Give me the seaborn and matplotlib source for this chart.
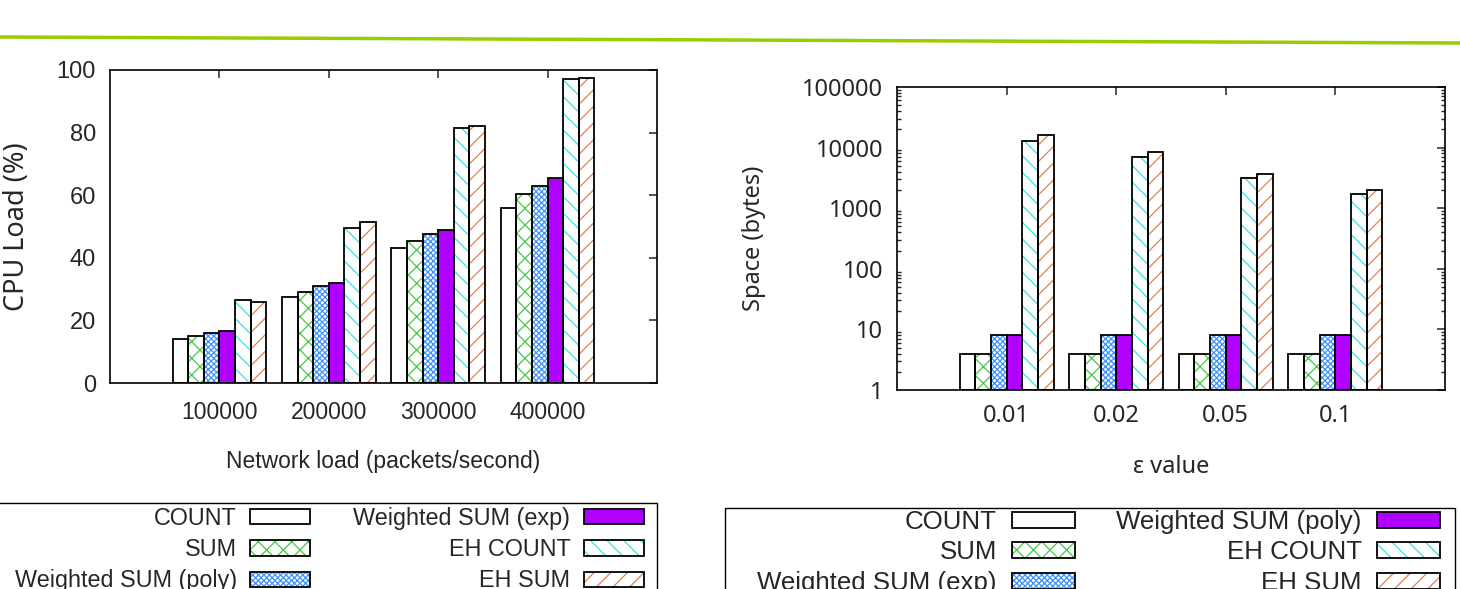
import matplotlib
matplotlib.use('Agg')
import matplotlib.pyplot as plt
import pandas as pd
import seaborn as sns
from matplotlib.patches import Patch, Rectangle
from matplotlib.lines import Line2D

# CPU load chart (left)
loads = ['100000', '200000', '300000', '400000']
cpu_methods = ['COUNT', 'SUM', 'Weighted SUM (poly)', 'Weighted SUM (exp)', 'EH COUNT', 'EH SUM']
cpu_count = [14, 27.5, 43, 56]
cpu_sum = [15, 29, 45.5, 60.5]
cpu_wpoly = [16, 31, 47.5, 63]
cpu_wexp = [16.5, 32, 49, 65.5]
cpu_ehcount = [26.5, 49.5, 81.5, 97]
cpu_ehsum = [26, 51.5, 82, 97.5]

# Space chart (right)
eps = ['0.01', '0.02', '0.05', '0.1']
space_methods = ['COUNT', 'SUM', 'Weighted SUM (exp)', 'Weighted SUM (poly)', 'EH COUNT', 'EH SUM']
sp_count = [4, 4, 4, 4]
sp_sum = [4, 4, 4, 4]
sp_wexp = [8, 8, 8, 8]
sp_wpoly = [8, 8, 8, 8]
sp_ehcount = [13000, 7000, 3100, 1700]
sp_ehsum = [16000, 8500, 3650, 2000]

# bar styles in drawing order: (face, hatch colour, hatch)
styles = [
    ('white', 'black', ''),
    ('white', '#45c845', 'xx'),
    ('white', '#3c92ff', 'xxxxxx'),
    ('#b000ff', 'black', ''),
    ('white', '#38e2e2', '\\\\'),
    ('white', '#e0804c', '//'),
]

plt.rcParams['hatch.linewidth'] = 0.9
sns.set_style('white')

arial = ['Liberation Sans', 'DejaVu Sans']
noto = ['Noto Sans', 'DejaVu Sans']


def long_df(cats, methods, series, xname, yname):
    rows = []
    for m, vals in zip(methods, series):
        for c, v in zip(cats, vals):
            rows.append({xname: c, 'method': m, yname: v})
    return pd.DataFrame(rows)


def style_bars(ax, base=0):
    for cont, (face, hcol, hatch) in zip(ax.containers, styles):
        for p in cont.patches:
            if base:
                top = p.get_y() + p.get_height()
                p.set_y(base)
                p.set_height(top - base)
            p.set_facecolor(face)
            p.set_hatch(hatch)
            p.set_edgecolor(hcol)
            p.set_linewidth(0)
            ax.add_patch(Rectangle(p.get_xy(), p.get_width(), p.get_height(),
                                   fill=False, edgecolor='black', linewidth=1.3, zorder=3))


def legend_handles():
    hs = []
    for face, hcol, hatch in styles:
        hs.append((Patch(facecolor=face, edgecolor=hcol, hatch=hatch, linewidth=0),
                   Patch(fill=False, edgecolor='black', linewidth=1.3)))
    return hs


def frame(ax):
    for s in ax.spines.values():
        s.set_visible(True)
        s.set_color('black')
        s.set_linewidth(1.2)
    ax.tick_params(direction='in', top=True, right=True, length=6, width=1.1)


W, H = 1460, 589
fig = plt.figure(figsize=(W / 100, H / 100), dpi=100)
fig.add_artist(Line2D([0, 1], [1 - 37 / H, 1 - 43 / H], color='#9acc00', linewidth=2.5))

# left chart
ax1 = fig.add_axes([110 / W, 1 - 383 / H, 547 / W, 313 / H])
df1 = long_df(loads, cpu_methods, [cpu_count, cpu_sum, cpu_wpoly, cpu_wexp, cpu_ehcount, cpu_ehsum],
              'load', 'cpu')
sns.barplot(data=df1, x='load', y='cpu', hue='method', ax=ax1, width=6 / 7, gap=0,
            legend=False, errorbar=None, palette=['white'] * 6)
style_bars(ax1)
ax1.set_xlim(-1, 4)
ax1.set_ylim(0, 100)
ax1.set_yticks([0, 20, 40, 60, 80, 100])
frame(ax1)
ax1.tick_params(axis='x', pad=13)
ax1.tick_params(axis='y', pad=10)
for lab in ax1.get_xticklabels():
    lab.set_family(arial)
    lab.set_fontsize(16.5)
for lab in ax1.get_yticklabels():
    lab.set_family(arial)
    lab.set_fontsize(17)
ax1.set_xlabel('Network load (packets/second)', fontsize=16.5, family=arial)
ax1.set_ylabel('CPU Load (%)', fontsize=19.5, family=noto)
ax1.xaxis.set_label_coords(0.5, -0.215)
ax1.yaxis.set_label_coords(-0.145, 0.5)

fig.legend(legend_handles(), cpu_methods, loc='upper right',
           bbox_to_anchor=(644 / W, 1 - 507 / H), ncol=2, markerfirst=False,
           frameon=False, borderaxespad=0, borderpad=0,
           prop={'family': arial, 'size': 16.8}, handlelength=2.58, handleheight=0.62,
           labelspacing=0.35, columnspacing=1.85, handletextpad=0.57)
fig.add_artist(Rectangle((-5 / W, -0.1), 662 / W, 1 - 503 / H + 0.1, transform=fig.transFigure,
                         fill=False, edgecolor='black', linewidth=1.0))

# right chart
ax2 = fig.add_axes([897 / W, 1 - 390 / H, 548 / W, 303 / H])
df2 = long_df(eps, space_methods, [sp_count, sp_sum, sp_wexp, sp_wpoly, sp_ehcount, sp_ehsum],
              'eps', 'space')
sns.barplot(data=df2, x='eps', y='space', hue='method', ax=ax2, width=6 / 7, gap=0,
            legend=False, errorbar=None, palette=['white'] * 6)
ax2.set_yscale('log')
style_bars(ax2, base=1)
ax2.set_xlim(-1, 4)
ax2.set_ylim(1, 100000)
ax2.set_yticks([1, 10, 100, 1000, 10000, 100000])
ax2.set_yticklabels(['1', '10', '100', '1000', '10000', '100000'])
frame(ax2)
ax2.tick_params(which='minor', direction='in', left=True, right=True, length=3, width=1)
ax2.tick_params(axis='both', which='major', pad=10, labelsize=17)
for lab in ax2.get_xticklabels() + ax2.get_yticklabels():
    lab.set_family(noto)
ax2.set_xlabel('ε value', fontsize=17, family=noto)
ax2.set_ylabel('Space (bytes)', fontsize=17, family=noto)
ax2.xaxis.set_label_coords(0.5, -0.215)
ax2.yaxis.set_label_coords(-0.239, 0.5)

fig.legend(legend_handles(), space_methods, loc='upper right',
           bbox_to_anchor=(1440 / W, 1 - 510 / H), ncol=2, markerfirst=False,
           frameon=False, borderaxespad=0, borderpad=0,
           prop={'family': arial, 'size': 18.6}, handlelength=2.45, handleheight=0.58,
           labelspacing=0.25, columnspacing=1.6, handletextpad=0.58)
fig.add_artist(Rectangle((725 / W, -0.1), 730 / W, 1 - 508 / H + 0.1, transform=fig.transFigure,
                         fill=False, edgecolor='black', linewidth=1.0))

fig.savefig('out.png', dpi=100)
